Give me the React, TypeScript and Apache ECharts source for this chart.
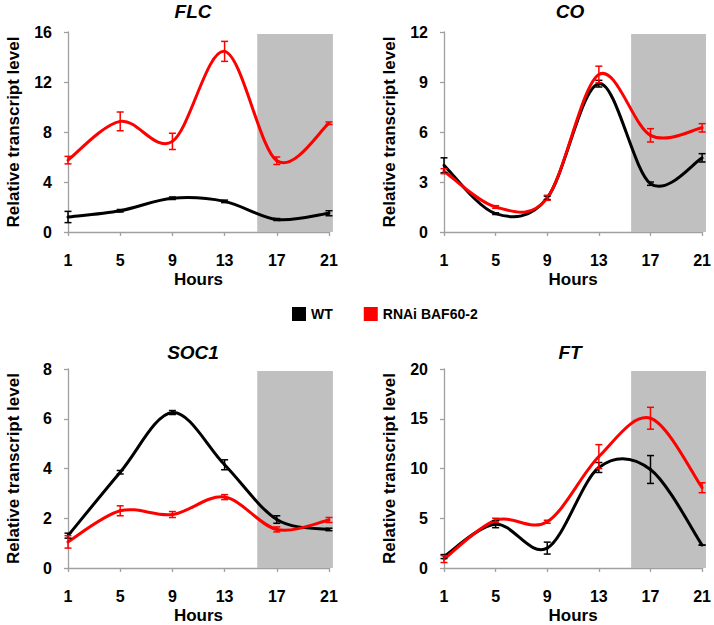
import React, { useEffect, useRef } from "react";
import * as echarts from "echarts";

const hours = [1, 5, 9, 13, 17, 21];

const flcWT = [1.2, 1.7, 2.7, 2.45, 1.0, 1.5];
const flcWTErr = [0.45, 0.1, 0.1, 0.1, 0.08, 0.2];
const flcRNAi = [5.75, 8.85, 7.25, 14.45, 5.7, 8.7];
const flcRNAiErr = [0.3, 0.75, 0.65, 0.8, 0.3, 0.1];

const coWT = [4.0, 1.1, 2.05, 8.9, 2.9, 4.45];
const coWTErr = [0.45, 0.05, 0.1, 0.2, 0.1, 0.25];
const coRNAi = [3.65, 1.5, 2.05, 9.45, 5.8, 6.25];
const coRNAiErr = [0.15, 0.08, 0.15, 0.5, 0.4, 0.25];

const soc1WT = [1.3, 3.85, 6.25, 4.15, 1.95, 1.55];
const soc1WTErr = [0.1, 0.07, 0.08, 0.2, 0.15, 0.05];
const soc1RNAi = [1.05, 2.3, 2.15, 2.85, 1.55, 1.93];
const soc1RNAiErr = [0.25, 0.2, 0.12, 0.1, 0.1, 0.1];

const ftWT = [1.15, 4.4, 2.0, 10.1, 9.9, 2.3];
const ftWTErr = [0.2, 0.35, 0.6, 0.5, 1.4, 0];
const ftRNAi = [0.9, 4.8, 4.65, 11.2, 15.05, 8.07];
const ftRNAiErr = [0.35, 0.2, 0.15, 1.2, 1.1, 0.5];

const titles = ["FLC", "CO", "SOC1", "FT"];
const yMax = [16, 12, 8, 20];
const yInterval = [4, 3, 2, 5];
const darkStart = 15.5;
const darkEnd = 21.3;

const seriesNames = ["WT", "RNAi BAF60-2"];
const colors = ["#000000", "#ff0000"];

const FONT = "'Liberation Sans', Arial, sans-serif";
const AXIS_GRAY = "#a0a0a0";

const panelData = [
  { wt: flcWT, wtErr: flcWTErr, rn: flcRNAi, rnErr: flcRNAiErr },
  { wt: coWT, wtErr: coWTErr, rn: coRNAi, rnErr: coRNAiErr },
  { wt: soc1WT, wtErr: soc1WTErr, rn: soc1RNAi, rnErr: soc1RNAiErr },
  { wt: ftWT, wtErr: ftWTErr, rn: ftRNAi, rnErr: ftRNAiErr },
];

const gridLeft = [68, 444];
const gridTop = [32, 369];
const titleX = [193, 570];
const titleY = [2, 343];

function buildOption() {
  const grid: any[] = [];
  const xAxis: any[] = [];
  const yAxis: any[] = [];
  const title: any[] = [];
  const series: any[] = [];

  panelData.forEach((p, i) => {
    const col = i % 2;
    const row = Math.floor(i / 2);
    grid.push({ left: gridLeft[col], top: gridTop[row], width: 261, height: 200 });
    title.push({
      text: titles[i],
      left: titleX[col],
      top: titleY[row],
      padding: 0,
      textAlign: "center",
      textStyle: { fontFamily: FONT, fontSize: 19, fontWeight: "bold", fontStyle: "italic", color: "#000" },
    });
    xAxis.push({
      type: "value",
      gridIndex: i,
      min: 1,
      max: 21,
      name: "Hours",
      nameLocation: "middle",
      nameGap: 39,
      nameTextStyle: { fontFamily: FONT, fontSize: 17, fontWeight: "bold", color: "#000" },
      axisLine: { show: true, lineStyle: { color: AXIS_GRAY, width: 1.3 } },
      axisTick: { show: true, length: 4, customValues: hours, lineStyle: { color: AXIS_GRAY, width: 1.3 } },
      axisLabel: {
        customValues: hours,
        margin: 20,
        fontFamily: FONT,
        fontSize: 16,
        fontWeight: "bold",
        color: "#000",
      },
      splitLine: { show: false },
    });
    yAxis.push({
      type: "value",
      gridIndex: i,
      min: 0,
      max: yMax[i],
      interval: yInterval[i],
      name: "Relative transcript level",
      nameLocation: "middle",
      nameGap: 46,
      nameTextStyle: { fontFamily: FONT, fontSize: 17, fontWeight: "bold", color: "#000" },
      axisLine: { show: true, lineStyle: { color: AXIS_GRAY, width: 1.3 } },
      axisTick: { show: true, length: 4, lineStyle: { color: AXIS_GRAY, width: 1.3 } },
      axisLabel: { margin: 16, fontFamily: FONT, fontSize: 16, fontWeight: "bold", color: "#000" },
      splitLine: { show: false },
    });

    // dark period shading
    series.push({
      type: "custom",
      xAxisIndex: i,
      yAxisIndex: i,
      silent: true,
      z: 1,
      data: [[darkStart, darkEnd, yMax[i] * 0.99]],
      encode: { x: [0, 1], y: 2 },
      renderItem: (params: any, api: any) => {
        const a = api.coord([api.value(0), api.value(2)]);
        const b = api.coord([api.value(1), 0]);
        return {
          type: "rect",
          shape: { x: a[0], y: a[1], width: b[0] - a[0], height: b[1] - a[1] },
          style: { fill: "#c0c0c0" },
        };
      },
    });

    const sets = [
      { vals: p.wt, errs: p.wtErr },
      { vals: p.rn, errs: p.rnErr },
    ];
    sets.forEach((s, k) => {
      // smooth curve (Catmull-Rom segments, like a spreadsheet's smoothed line)
      series.push({
        type: "custom",
        name: seriesNames[k],
        xAxisIndex: i,
        yAxisIndex: i,
        silent: true,
        z: 3,
        itemStyle: { color: colors[k] },
        data: hours.map((h, j) => [h, s.vals[j]]),
        encode: { x: 0, y: 1 },
        renderItem: (params: any, api: any) => {
          const j = params.dataIndex;
          const n = hours.length;
          if (j >= n - 1) return null;
          const pt = (m: number) => {
            const q = Math.max(0, Math.min(n - 1, m));
            return api.coord([hours[q], s.vals[q]]);
          };
          const p0 = pt(j - 1);
          const p1 = pt(j);
          const p2 = pt(j + 1);
          const p3 = pt(j + 2);
          const t = 1 / 6;
          return {
            type: "bezierCurve",
            shape: {
              x1: p1[0],
              y1: p1[1],
              x2: p2[0],
              y2: p2[1],
              cpx1: p1[0] + (p2[0] - p0[0]) * t,
              cpy1: p1[1] + (p2[1] - p0[1]) * t,
              cpx2: p2[0] - (p3[0] - p1[0]) * t,
              cpy2: p2[1] - (p3[1] - p1[1]) * t,
            },
            style: { stroke: colors[k], lineWidth: 3, fill: null, lineCap: "round" },
          };
        },
      });
      // error bars
      series.push({
        type: "custom",
        xAxisIndex: i,
        yAxisIndex: i,
        silent: true,
        z: 4,
        data: hours.map((h, j) => [h, s.vals[j] - s.errs[j], s.vals[j] + s.errs[j]]),
        encode: { x: 0, y: [1, 2] },
        renderItem: (params: any, api: any) => {
          const x = api.value(0);
          const lo = api.coord([x, api.value(1)]);
          const hi = api.coord([x, api.value(2)]);
          const w = 3.5;
          const st = { stroke: colors[k], lineWidth: 1.5 };
          return {
            type: "group",
            children: [
              { type: "line", shape: { x1: lo[0], y1: lo[1], x2: hi[0], y2: hi[1] }, style: st },
              { type: "line", shape: { x1: lo[0] - w, y1: lo[1], x2: lo[0] + w, y2: lo[1] }, style: st },
              { type: "line", shape: { x1: hi[0] - w, y1: hi[1], x2: hi[0] + w, y2: hi[1] }, style: st },
            ],
          };
        },
      });
    });
  });

  return {
    animation: false,
    backgroundColor: "#ffffff",
    title,
    legend: {
      data: seriesNames.map((nm, k) => ({ name: nm, icon: "rect", itemStyle: { color: colors[k] } })),
      left: 287,
      top: 302,
      itemWidth: 14,
      itemHeight: 14,
      itemGap: 31,
      selectedMode: false,
      textStyle: { fontFamily: FONT, fontSize: 14, fontWeight: "bold", color: "#000" },
    },
    grid,
    xAxis,
    yAxis,
    series,
  };
}

export default function App() {
  const ref = useRef<HTMLDivElement>(null);
  useEffect(() => {
    if (!ref.current) return;
    const chart = echarts.init(ref.current, undefined, { renderer: "svg" });
    chart.setOption(buildOption() as any);
    return () => chart.dispose();
  }, []);
  return (
    <div
      ref={ref}
      style={{ position: "absolute", left: 0, top: 0, width: 714, height: 625, background: "#fff" }}
    />
  );
}
